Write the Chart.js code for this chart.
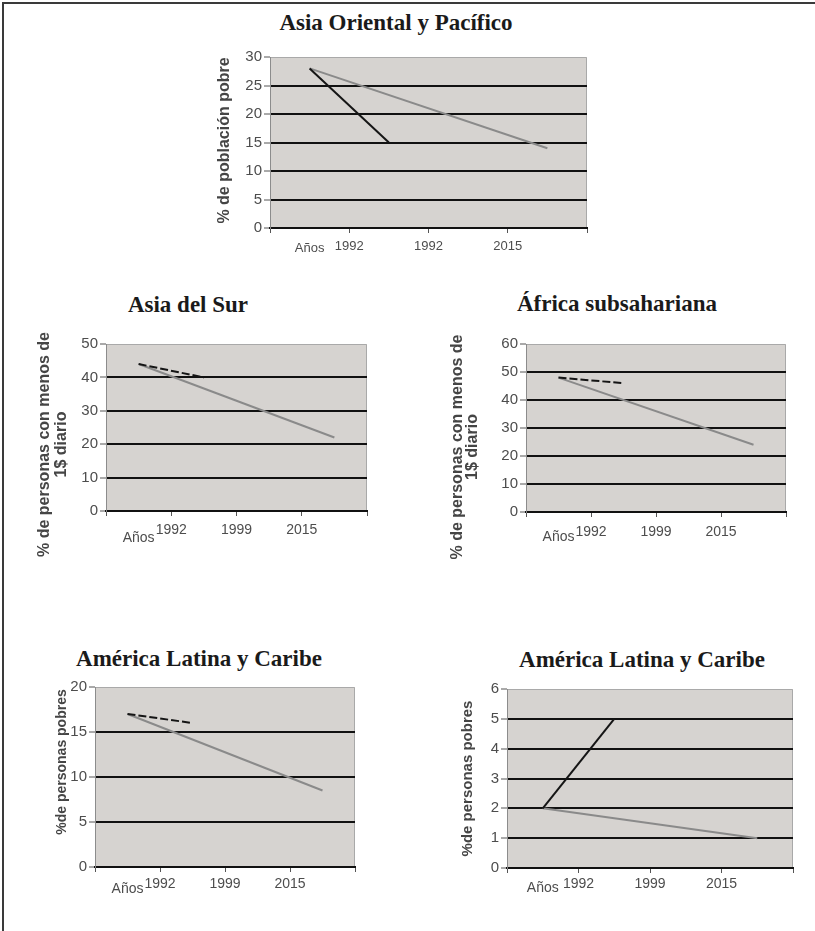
<!DOCTYPE html>
<html lang="es">
<head>
<meta charset="utf-8">
<title>Pobreza por regiones</title>
<script src="https://cdn.jsdelivr.net/npm/chart.js@4.4.1/dist/chart.umd.min.js"></script>
<style>
  html, body { margin: 0; padding: 0; background: #ffffff; }
  body { width: 815px; height: 931px; position: relative; overflow: hidden; }
  canvas.panel { position: absolute; left: 0; top: 0; }
  .frame { position: absolute; background: #3a3a3a; }
  .title {
    position: absolute; width: 400px; text-align: center;
    font-family: "Liberation Serif", "Times New Roman", serif;
    font-weight: bold; font-size: 23px; line-height: 23px; color: #1a1a1a;
    white-space: nowrap;
  }
</style>
</head>
<body>
<div class="frame" style="left:2px; top:2px; width:813px; height:2px;"></div>
<div class="frame" style="left:2px; top:2px; width:2px; height:929px;"></div>

<div class="title" style="left:196px; top:11px;">Asia Oriental y Pacífico</div>
<div class="title" style="left:-12px; top:293px;">Asia del Sur</div>
<div class="title" style="left:417px; top:292px;">África subsahariana</div>
<div class="title" style="left:-1px; top:647px;">América Latina y Caribe</div>
<div class="title" style="left:442px; top:648px;">América Latina y Caribe</div>

<canvas class="panel" id="c1" width="815" height="931"></canvas>
<canvas class="panel" id="c2" width="815" height="931"></canvas>
<canvas class="panel" id="c3" width="815" height="931"></canvas>
<canvas class="panel" id="c4" width="815" height="931"></canvas>
<canvas class="panel" id="c5" width="815" height="931"></canvas>

<script>
// Axis captions: first entry sits under the first slot, the rest on the slot boundaries
const yearsEastAsia = ['Años', '1992', '1992', '2015'];
const yearsOther    = ['Años', '1992', '1999', '2015'];

// Poverty rates (%) per slot; null = no value for that slot
const eastAsiaDark  = [28, 15, null, null];
const eastAsiaGrey  = [28, null, null, 14];

const southAsiaDark = [44, 40, null, null];
const southAsiaGrey = [44, null, null, 22];

const africaDark    = [48, 46, null, null];
const africaGrey    = [48, null, null, 24];

const latamDark     = [17, 16, null, null];
const latamGrey     = [17, null, null, 8.5];

const latam2Dark    = [2, 5, null, null];
const latam2Grey    = [2, null, null, 1];

// Y-axis ranges
const yMaxEastAsia = 30, yStepEastAsia = 5;
const yMaxSouthAsia = 50, yStepSouthAsia = 10;
const yMaxAfrica = 60, yStepAfrica = 10;
const yMaxLatam = 20, yStepLatam = 5;
const yMaxLatam2 = 6, yStepLatam2 = 1;

const TICK_COLOR = '#4d4d4d';
const SANS = '"Liberation Sans", Arial, Helvetica, sans-serif';

function toPoints(values) {
  return values.map((v, i) => ({ x: i + 0.5, y: v }));
}

// Grey plot background plus a thin frame on top and right
const plotBackground = {
  id: 'plotBackground',
  beforeDraw(chart) {
    const { ctx, chartArea: a } = chart;
    ctx.save();
    ctx.fillStyle = '#d6d3d0';
    ctx.fillRect(a.left, a.top, a.right - a.left, a.bottom - a.top);
    ctx.strokeStyle = '#a9a9a9';
    ctx.lineWidth = 1;
    ctx.beginPath();
    ctx.moveTo(a.left, a.top + 0.5);
    ctx.lineTo(a.right - 0.5, a.top + 0.5);
    ctx.lineTo(a.right - 0.5, a.bottom);
    ctx.stroke();
    ctx.restore();
  }
};

// "Años" caption under the first slot and the rotated y-axis title
const axisCaptions = {
  id: 'axisCaptions',
  afterDraw(chart, args, opts) {
    const { ctx, chartArea: a } = chart;
    const xs = chart.scales.x;
    ctx.save();
    ctx.fillStyle = TICK_COLOR;
    ctx.font = opts.tickSize + 'px ' + SANS;
    ctx.textAlign = 'center';
    ctx.textBaseline = 'middle';
    ctx.fillText(opts.caption, xs.getPixelForValue(0.5), a.bottom + opts.captionDy);

    ctx.fillStyle = '#454545';
    ctx.font = 'bold ' + opts.titleSize + 'px ' + SANS;
    const cy = (a.top + a.bottom) / 2 + opts.titleShift;
    opts.titleLines.forEach((line, i) => {
      ctx.save();
      ctx.translate(a.left + opts.titleX[i], cy);
      ctx.rotate(-Math.PI / 2);
      ctx.fillText(line, 0, 0);
      ctx.restore();
    });
    ctx.restore();
  }
};

function makeChart(id, cfg) {
  const [pl, pt, pr, pb] = cfg.plot;
  const yW = 60, xH = 30;
  return new Chart(document.getElementById(id), {
    type: 'line',
    data: {
      datasets: [
        {
          data: toPoints(cfg.dark),
          borderColor: '#151515',
          borderWidth: 2,
          borderDash: cfg.dash,
          pointRadius: 0,
          spanGaps: true,
          tension: 0
        },
        {
          data: toPoints(cfg.grey),
          borderColor: '#8a8a8a',
          borderWidth: 2,
          pointRadius: 0,
          spanGaps: true,
          tension: 0
        }
      ]
    },
    options: {
      responsive: false,
      animation: false,
      events: [],
      layout: {
        padding: { left: pl - yW, top: pt, right: 815 - pr, bottom: 931 - pb - xH }
      },
      plugins: {
        legend: { display: false },
        tooltip: { enabled: false },
        axisCaptions: {
          caption: cfg.years[0],
          captionDy: cfg.captionDy,
          tickSize: cfg.xTickSize,
          titleLines: cfg.titleLines,
          titleX: cfg.titleX,
          titleShift: cfg.titleShift,
          titleSize: cfg.titleSize
        }
      },
      scales: {
        x: {
          type: 'linear',
          min: 0,
          max: 4,
          afterFit(s) { s.height = xH; },
          ticks: {
            stepSize: 1,
            autoSkip: false,
            maxRotation: 0,
            padding: cfg.xPad,
            color: TICK_COLOR,
            font: { family: SANS, size: cfg.xTickSize },
            callback: (v) => (v >= 1 && v <= 3) ? cfg.years[v] : ''
          },
          grid: {
            drawOnChartArea: false,
            tickLength: 5,
            tickColor: '#555555',
            tickWidth: 1
          },
          border: { color: '#111111', width: 2 }
        },
        y: {
          min: 0,
          max: cfg.yMax,
          afterFit(s) { s.width = yW; },
          ticks: {
            stepSize: cfg.yStep,
            padding: 2,
            color: TICK_COLOR,
            font: { family: SANS, size: cfg.yTickSize }
          },
          grid: {
            color: (c) => (c.tick && c.tick.value === cfg.yMax) ? 'rgba(0,0,0,0)' : '#111111',
            lineWidth: 2,
            tickLength: 6,
            tickColor: '#555555',
            tickWidth: 1
          },
          border: { color: '#8c8c8c', width: 1 }
        }
      }
    },
    plugins: [plotBackground, axisCaptions]
  });
}

makeChart('c1', {
  plot: [270, 57, 587, 228], years: yearsEastAsia,
  dark: eastAsiaDark, grey: eastAsiaGrey, dash: [],
  yMax: yMaxEastAsia, yStep: yStepEastAsia,
  xTickSize: 13, yTickSize: 15, xPad: 6, captionDy: 20,
  titleLines: ['% de población pobre'], titleX: [-45], titleShift: -2, titleSize: 16
});

makeChart('c2', {
  plot: [106, 344, 367, 511], years: yearsOther,
  dark: southAsiaDark, grey: southAsiaGrey, dash: [8, 3],
  yMax: yMaxSouthAsia, yStep: yStepSouthAsia,
  xTickSize: 14, yTickSize: 15, xPad: 6, captionDy: 27,
  titleLines: ['% de personas con menos de', '1$ diario'], titleX: [-61, -44], titleShift: 17, titleSize: 16
});

makeChart('c3', {
  plot: [526, 344, 786, 512], years: yearsOther,
  dark: africaDark, grey: africaGrey, dash: [8, 3],
  yMax: yMaxAfrica, yStep: yStepAfrica,
  xTickSize: 14, yTickSize: 15, xPad: 7, captionDy: 25,
  titleLines: ['% de personas con menos de', '1$ diario'], titleX: [-68, -53], titleShift: 19, titleSize: 16
});

makeChart('c4', {
  plot: [95, 687, 355, 867], years: yearsOther,
  dark: latamDark, grey: latamGrey, dash: [8, 3],
  yMax: yMaxLatam, yStep: yStepLatam,
  xTickSize: 14, yTickSize: 15, xPad: 4, captionDy: 22,
  titleLines: ['%de personas pobres'], titleX: [-33], titleShift: -15, titleSize: 14
});

makeChart('c5', {
  plot: [507, 689, 793, 868], years: yearsOther,
  dark: latam2Dark, grey: latam2Grey, dash: [],
  yMax: yMaxLatam2, yStep: yStepLatam2,
  xTickSize: 14, yTickSize: 15, xPad: 3, captionDy: 20,
  titleLines: ['%de personas pobres'], titleX: [-39], titleShift: 0, titleSize: 15
});
</script>
</body>
</html>
